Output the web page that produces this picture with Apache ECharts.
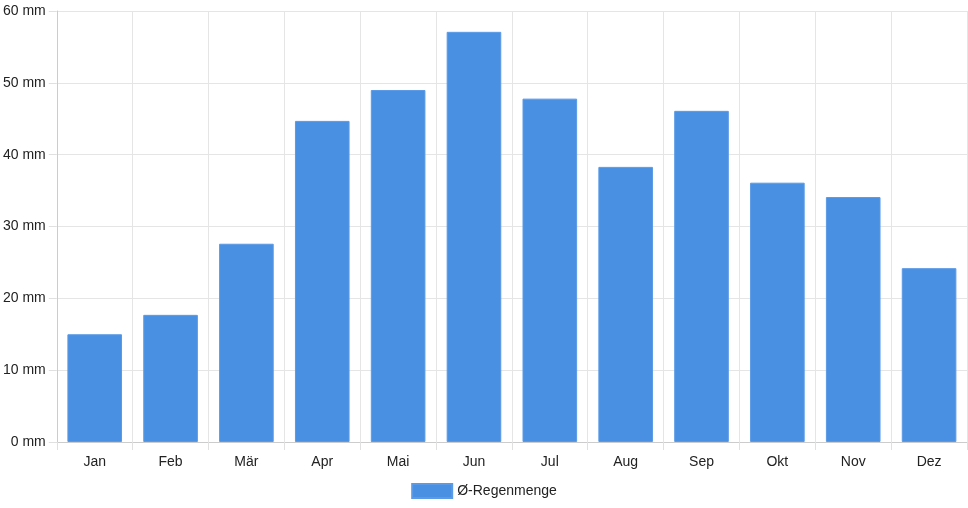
<!DOCTYPE html>
<html>
<head>
    <meta charset="UTF-8">
    <title>Regenmenge</title>
    <script src="https://cdn.jsdelivr.net/npm/echarts@6/dist/echarts.min.js"></script>
    <style>
        html, body { margin: 0; padding: 0; background: #fff; }
        #chart { width: 968px; height: 508px; }
    </style>
</head>
<body>
    <div id="chart"></div>
    <script>
        var months = ['Jan', 'Feb', 'Mär', 'Apr', 'Mai', 'Jun', 'Jul', 'Aug', 'Sep', 'Okt', 'Nov', 'Dez'];
        var rain = [15.0, 17.7, 27.6, 44.7, 49.0, 57.1, 47.8, 38.3, 46.1, 36.1, 34.1, 24.2];
        var seriesName = 'Ø-Regenmenge';

        var chart = echarts.init(document.getElementById('chart'));
        var font = 'Liberation Sans, Arial, sans-serif';
        var option = {
            animation: false,
            textStyle: { fontFamily: font },
            legend: {
                top: 478,
                left: 'center',
                itemWidth: 40,
                itemHeight: 14,
                itemGap: 10,
                textStyle: { fontSize: 14, color: '#222', fontFamily: font },
                data: [{ name: seriesName, icon: 'rect' }]
            },
            grid: { left: 56, right: 1, top: 11, bottom: 66, containLabel: false },
            xAxis: {
                type: 'category',
                data: months,
                boundaryGap: true,
                axisLine: { lineStyle: { color: '#ccc' } },
                axisTick: { show: true, length: 8, lineStyle: { color: '#e0e0e0' } },
                axisLabel: { color: '#222', fontSize: 14, margin: 13, fontFamily: font },
                splitLine: { show: true, lineStyle: { color: '#e5e5e5' } }
            },
            yAxis: {
                type: 'value',
                min: 0,
                max: 60,
                interval: 10,
                axisLine: { show: true, lineStyle: { color: '#ccc' } },
                axisTick: { show: true, length: 8, lineStyle: { color: '#e0e0e0' } },
                axisLabel: { color: '#222', fontSize: 14, margin: 11, formatter: '{value} mm', fontFamily: font },
                splitLine: { show: true, lineStyle: { color: '#e5e5e5' } }
            },
            series: [{
                name: seriesName,
                type: 'bar',
                data: rain,
                barWidth: '72%',
                itemStyle: { color: '#4a90e2', borderColor: '#5a9ae6', borderWidth: 1 }
            }]
        };
        chart.setOption(option);
    </script>
</body>
</html>
